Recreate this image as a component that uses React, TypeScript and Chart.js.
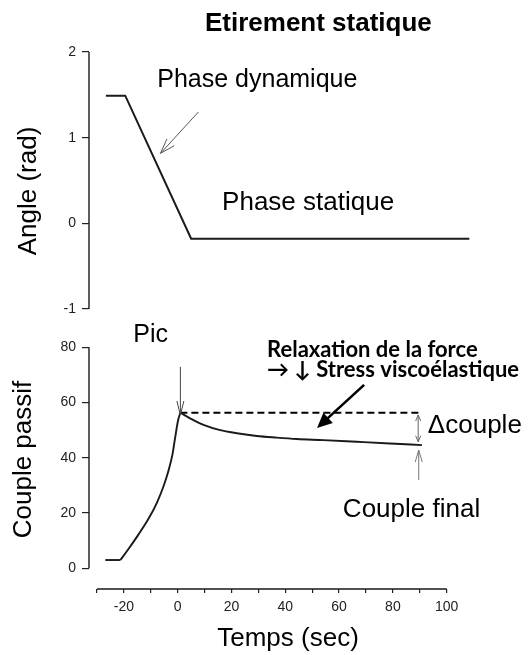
import React, { useEffect, useRef } from "react";
import { Chart, registerables } from "chart.js";

Chart.register(...registerables);

// ---------- data ----------
const angleTime = [-26.7, -19.5, 5.0, 108.4];
const angleRad = [1.49, 1.49, -0.18, -0.18];

const coupleTime = [-26.9, -21.3, -18.3, -14.6, -10.8, -7.7, -5.3, -3.4, -1.9, -0.9, 0.15, 1.0, 4.6, 9.6, 15.8, 22.0, 29.4, 36.8, 44.3, 54.2, 66.6, 78.9, 90.8];
const coupleValue = [3.0, 3.0, 7.0, 12.2, 18.0, 23.8, 29.6, 35.4, 41.4, 47.6, 53.6, 56.3, 54.3, 51.9, 50.0, 48.9, 47.9, 47.3, 46.8, 46.4, 45.8, 45.2, 44.6];
const riseStartIndex = 1;
const peakIndex = 11;

const peakLevel = [56.3, 56.3];
const peakLevelTime = [1.0, 90.8];

const timeTicks = [-30, -20, -10, 0, 10, 20, 30, 40, 50, 60, 70, 80, 90, 100];
const angleTicks = [-1, 0, 1, 2];
const coupleTicks = [0, 20, 40, 60, 80];

const FONT = "'Liberation Sans', Arial, Helvetica, sans-serif";
const BOLD2 = "Lato, 'Open Sans', sans-serif";

const toPoints = (xs: number[], ys: number[]) => xs.map((x, i) => ({ x, y: ys[i] }));

// ---------- annotations (in data coordinates) ----------
type TextNote = { text: string; x: number; y: number; axis: string; font: string; align: CanvasTextAlign };
const textNotes: TextNote[] = [
  { text: "Etirement statique", x: 52.3, y: 2.248, axis: "yTop", font: `bold 26px ${FONT}`, align: "center" },
  { text: "Phase dynamique", x: -7.6, y: 1.595, axis: "yTop", font: `25px ${FONT}`, align: "left" },
  { text: "Phase statique", x: 16.5, y: 0.155, axis: "yTop", font: `26px ${FONT}`, align: "left" },
  { text: "Pic", x: -16.5, y: 81.9, axis: "yBot", font: `25px ${FONT}`, align: "left" },
  { text: "Relaxation de la force", x: 33.2, y: 76.5, axis: "yBot", font: `bold 22px ${BOLD2}`, align: "left" },
  { text: "→ ↓ Stress viscoélastique", x: 33.2, y: 69.3, axis: "yBot", font: `bold 22px ${BOLD2}`, align: "left" },
  { text: "Δcouple", x: 93.0, y: 49.0, axis: "yBot", font: `26px ${FONT}`, align: "left" },
  { text: "Couple final", x: 61.4, y: 18.6, axis: "yBot", font: `26px ${FONT}`, align: "left" },
];

type ArrowNote = {
  from: [number, number]; to: [number, number]; axis: string;
  head: "open" | "filled"; both?: boolean; width: number; color: string; headLen: number; headHalf: number;
};
const arrowNotes: ArrowNote[] = [
  { from: [7.7, 1.3], to: [-6.4, 0.817], axis: "yTop", head: "open", width: 1, color: "#555", headLen: 15, headHalf: 5 },
  { from: [1.0, 72.9], to: [1.0, 55.5], axis: "yBot", head: "open", width: 1, color: "#444", headLen: 14, headHalf: 3.5 },
  { from: [69.3, 66.4], to: [51.8, 50.8], axis: "yBot", head: "filled", width: 2.6, color: "#000", headLen: 15, headHalf: 7 },
  { from: [89.6, 32.0], to: [89.6, 42.8], axis: "yBot", head: "open", width: 1, color: "#777", headLen: 12, headHalf: 3.5 },
  { from: [89.4, 45.8], to: [89.4, 55.5], axis: "yBot", head: "open", both: true, width: 1, color: "#666", headLen: 6, headHalf: 2.5 },
];

function drawHead(ctx: CanvasRenderingContext2D, fx: number, fy: number, tx: number, ty: number, a: ArrowNote) {
  const ang = Math.atan2(ty - fy, tx - fx);
  const bx = tx - a.headLen * Math.cos(ang);
  const by = ty - a.headLen * Math.sin(ang);
  const px = -Math.sin(ang) * a.headHalf;
  const py = Math.cos(ang) * a.headHalf;
  ctx.beginPath();
  if (a.head === "filled") {
    ctx.moveTo(tx, ty);
    ctx.lineTo(bx + px, by + py);
    ctx.lineTo(bx - px, by - py);
    ctx.closePath();
    ctx.fill();
  } else {
    ctx.moveTo(bx + px, by + py);
    ctx.lineTo(tx, ty);
    ctx.lineTo(bx - px, by - py);
    ctx.stroke();
  }
}

const annotationPlugin = {
  id: "annotations",
  afterDraw(chart: any) {
    const { ctx, scales, chartArea } = chart;
    const x = scales.x;
    ctx.save();
    // axis lines (offset spines)
    ctx.strokeStyle = "#1a1a1a";
    ctx.lineWidth = 1.4;
    ctx.beginPath();
    ctx.moveTo(x.getPixelForValue(timeTicks[0]), chartArea.bottom);
    ctx.lineTo(x.getPixelForValue(timeTicks[timeTicks.length - 1]), chartArea.bottom);
    const l = chartArea.left;
    ctx.moveTo(l, scales.yTop.getPixelForValue(angleTicks[0]));
    ctx.lineTo(l, scales.yTop.getPixelForValue(angleTicks[angleTicks.length - 1]));
    ctx.moveTo(l, scales.yBot.getPixelForValue(coupleTicks[0]));
    ctx.lineTo(l, scales.yBot.getPixelForValue(coupleTicks[coupleTicks.length - 1]));
    ctx.stroke();

    // arrows
    for (const a of arrowNotes) {
      const y = scales[a.axis];
      const fx = x.getPixelForValue(a.from[0]);
      const fy = y.getPixelForValue(a.from[1]);
      const tx = x.getPixelForValue(a.to[0]);
      const ty = y.getPixelForValue(a.to[1]);
      ctx.strokeStyle = a.color;
      ctx.fillStyle = a.color;
      ctx.lineWidth = a.width;
      const ang = Math.atan2(ty - fy, tx - fx);
      const shorten = a.head === "filled" ? a.headLen * 0.8 : 0;
      ctx.beginPath();
      ctx.moveTo(fx, fy);
      ctx.lineTo(tx - shorten * Math.cos(ang), ty - shorten * Math.sin(ang));
      ctx.stroke();
      drawHead(ctx, fx, fy, tx, ty, a);
      if (a.both) drawHead(ctx, tx, ty, fx, fy, a);
    }

    // texts
    ctx.fillStyle = "#000";
    ctx.textBaseline = "alphabetic";
    for (const t of textNotes) {
      ctx.font = t.font;
      ctx.textAlign = t.align;
      ctx.fillText(t.text, x.getPixelForValue(t.x), scales[t.axis].getPixelForValue(t.y));
    }
    ctx.restore();
  },
};

const lineStyle = { borderColor: "#1a1a1a", borderWidth: 1.9, pointRadius: 0 };

export default function App() {
  const ref = useRef<HTMLCanvasElement>(null);
  useEffect(() => {
    if (!ref.current) return;
    const flatT = coupleTime.slice(0, riseStartIndex + 1);
    const flatV = coupleValue.slice(0, riseStartIndex + 1);
    const riseT = coupleTime.slice(riseStartIndex, peakIndex + 1);
    const riseV = coupleValue.slice(riseStartIndex, peakIndex + 1);
    const decayT = coupleTime.slice(peakIndex);
    const decayV = coupleValue.slice(peakIndex);
    const chart = new Chart(ref.current, {
      type: "line",
      data: {
        datasets: [
          { label: "Angle", data: toPoints(angleTime, angleRad), xAxisID: "x", yAxisID: "yTop", ...lineStyle, borderWidth: 2, tension: 0 },
          { label: "Couple (repos)", data: toPoints(flatT, flatV), xAxisID: "x", yAxisID: "yBot", ...lineStyle, tension: 0 },
          { label: "Couple (montée)", data: toPoints(riseT, riseV), xAxisID: "x", yAxisID: "yBot", ...lineStyle, cubicInterpolationMode: "monotone" },
          { label: "Couple (relaxation)", data: toPoints(decayT, decayV), xAxisID: "x", yAxisID: "yBot", ...lineStyle, cubicInterpolationMode: "monotone" },
          {
            label: "Pic",
            data: toPoints(peakLevelTime, peakLevel),
            xAxisID: "x",
            yAxisID: "yBot",
            borderColor: "#000",
            borderWidth: 2,
            borderDash: [7, 4],
            pointRadius: 0,
            tension: 0,
          },
        ],
      },
      options: {
        animation: false,
        responsive: false,
        devicePixelRatio: 1,
        layout: { padding: { top: 52, left: 0, right: 42, bottom: 0 } },
        plugins: { legend: { display: false }, tooltip: { enabled: false }, title: { display: false } },
        scales: {
          x: {
            type: "linear",
            position: "bottom",
            min: -32.97,
            max: 114.98,
            afterBuildTicks: (s: any) => { s.ticks = timeTicks.map((v) => ({ value: v })); },
            afterFit: (s: any) => { s.height = 66; },
            ticks: {
              autoSkip: false,
              maxRotation: 0,
              padding: 6,
              color: "#222",
              font: { family: FONT, size: 14 },
              callback: (v: any) => (Number(v) % 20 === 0 ? String(v) : ""),
            },
            grid: { drawOnChartArea: false, drawTicks: true, tickLength: 4, color: "#222", lineWidth: 1.2 },
            border: { display: false },
            title: { display: true, text: "Temps (sec)", color: "#000", font: { family: FONT, size: 26 }, padding: { top: 0, bottom: 1 } },
          },
          yBot: {
            type: "linear",
            position: "left",
            stack: "left",
            stackWeight: 259,
            weight: 1,
            min: -7.49,
            max: 86.26,
            afterBuildTicks: (s: any) => { s.ticks = coupleTicks.map((v) => ({ value: v })); },
            afterFit: (s: any) => { s.width = 89; },
            ticks: { padding: 6, color: "#222", font: { family: FONT, size: 14 } },
            grid: { drawOnChartArea: false, drawTicks: true, tickLength: 7, color: "#222", lineWidth: 1.2 },
            border: { display: false },
            title: { display: true, text: "Couple passif", color: "#000", font: { family: FONT, size: 26 }, padding: { top: 8.6, bottom: 0 } },
          },
          yTop: {
            type: "linear",
            position: "left",
            stack: "left",
            stackWeight: 278,
            weight: 2,
            min: -1.245,
            max: 2,
            afterBuildTicks: (s: any) => { s.ticks = angleTicks.map((v) => ({ value: v })); },
            afterFit: (s: any) => { s.width = 89; },
            ticks: { padding: 6, color: "#222", font: { family: FONT, size: 14 } },
            grid: { drawOnChartArea: false, drawTicks: true, tickLength: 7, color: "#222", lineWidth: 1.2 },
            border: { display: false },
            title: { display: true, text: "Angle (rad)", color: "#000", font: { family: FONT, size: 26 }, padding: { top: 13.6, bottom: 0 } },
          },
        },
      } as any,
      plugins: [annotationPlugin],
    });
    return () => chart.destroy();
  }, []);
  return (
    <div style={{ position: "absolute", left: 0, top: 0, width: 529, height: 655, background: "#fff" }}>
      <canvas ref={ref} width={529} height={655} style={{ display: "block" }} />
    </div>
  );
}
